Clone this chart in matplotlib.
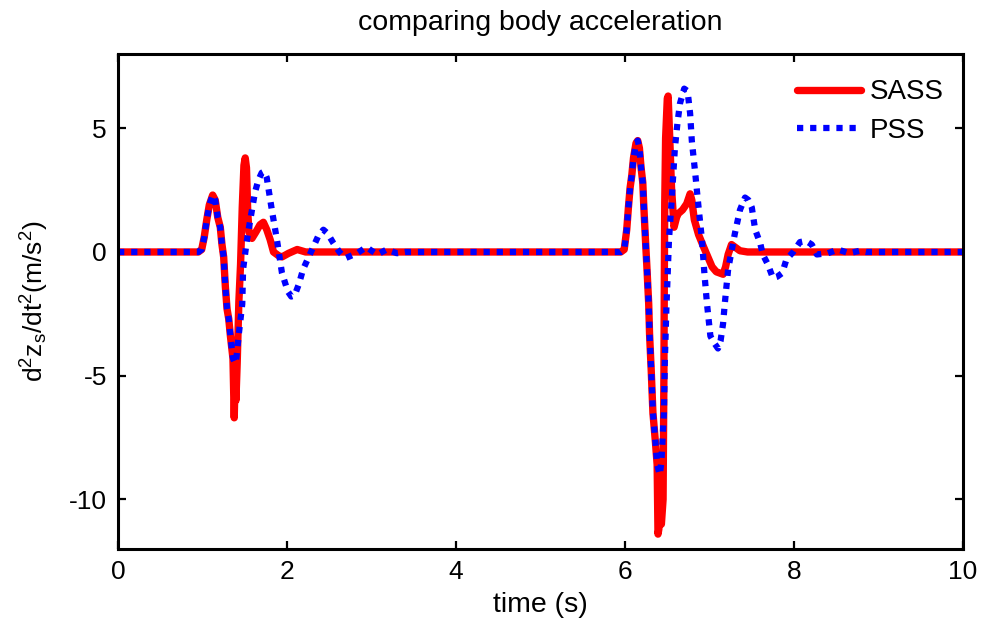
import numpy as np
import matplotlib
matplotlib.use("Agg")
import matplotlib.pyplot as plt

plt.rcParams['font.family'] = ['Liberation Sans', 'DejaVu Sans']
plt.rcParams['mathtext.default'] = 'regular'
plt.rcParams['axes.unicode_minus'] = False

# ---- data (time in s, accel in m/s^2) ----
# shared rise of the first bump (both controllers overlap here)
t_common1 = [0.0, 0.95, 0.99, 1.02, 1.05, 1.08, 1.12, 1.15, 1.18, 1.21, 1.23,
             1.25, 1.27, 1.29, 1.31, 1.33, 1.36]
a_common1 = [0.0, 0.0, 0.1, 0.6, 1.3, 1.9, 2.3, 2.1, 1.4, 1.0, 0.3,
             -0.2, -1.4, -2.3, -2.7, -3.4, -4.3]

# shared rise of the second bump
t_common2 = [5.95, 5.99, 6.02, 6.04, 6.06, 6.08, 6.10, 6.13, 6.15, 6.17, 6.19,
             6.21, 6.22, 6.24, 6.26, 6.28, 6.29, 6.31, 6.33, 6.36, 6.38]
a_common2 = [0.0, 0.1, 0.9, 1.8, 2.6, 3.1, 3.8, 4.4, 4.5, 4.2, 3.4,
             2.8, 2.0, 0.6, -0.7, -2.1, -3.3, -4.8, -6.5, -7.7, -8.6]

# SASS after the split
t_sass1 = [1.375, 1.385, 1.395, 1.41, 1.43, 1.45, 1.47, 1.49, 1.505, 1.52, 1.535,
           1.55, 1.585, 1.63, 1.68, 1.72, 1.76, 1.80, 1.84, 1.90, 1.94, 2.02,
           2.12, 2.22, 2.31, 5.95]
a_sass1 = [-6.7, -5.2, -6.0, -4.5, -2.0, -0.5, 1.8, 3.5, 3.8, 3.4, 1.6,
           0.8, 0.55, 0.8, 1.1, 1.2, 0.9, 0.5, 0.0, -0.15, -0.2, -0.05,
           0.1, 0.0, 0.0, 0.0]
t_sass2 = [6.39, 6.40, 6.41, 6.43, 6.45, 6.46, 6.465, 6.47, 6.48, 6.50, 6.51,
           6.53, 6.55, 6.58, 6.61, 6.63, 6.68, 6.73, 6.77, 6.79, 6.82, 6.87,
           6.93, 6.98, 7.03, 7.08, 7.16, 7.19, 7.22, 7.26, 7.30, 7.36, 7.45, 10.0]
a_sass2 = [-11.4, -11.2, -10.5, -11.0, -10.0, -5.0, -1.0, 2.0, 4.6, 6.2, 6.3,
           4.5, 2.6, 1.0, 1.4, 1.55, 1.7, 1.95, 2.35, 2.1, 1.3, 0.7,
           0.2, -0.2, -0.6, -0.8, -0.9, -0.6, -0.1, 0.3, 0.2, 0.05, 0.0, 0.0]

# PSS after the split
t_pss1 = [1.385, 1.40, 1.43, 1.47, 1.48, 1.52, 1.55, 1.58, 1.62, 1.66, 1.70,
          1.73, 1.76, 1.82, 1.88, 1.94, 2.01, 2.05, 2.09, 2.14, 2.19, 2.31,
          2.37, 2.43, 2.48, 2.55, 2.62, 2.69, 2.76, 2.83, 2.94, 3.00, 3.07,
          3.18, 3.30, 3.40, 5.95]
a_pss1 = [-4.5, -4.3, -3.3, -2.1, -0.7, 0.35, 1.0, 1.6, 2.4, 2.9, 3.2,
          3.25, 3.0, 1.7, 0.5, -0.85, -1.6, -1.8, -1.75, -1.3, -0.7, 0.2,
          0.65, 0.9, 0.75, 0.35, 0.0, -0.25, -0.15, -0.05, 0.2, 0.05, -0.1,
          0.1, -0.05, 0.0, 0.0]
t_pss2 = [6.41, 6.43, 6.46, 6.47, 6.49, 6.52, 6.55, 6.59, 6.62, 6.65, 6.70,
          6.74, 6.77, 6.79, 6.83, 6.85, 6.87, 6.91, 6.94, 6.97, 7.01, 7.06,
          7.10, 7.13, 7.16, 7.18, 7.22, 7.30, 7.36, 7.42, 7.46, 7.50, 7.54,
          7.60, 7.63, 7.69, 7.75, 7.80, 7.86, 7.91, 7.99, 8.07, 8.14, 8.21,
          8.27, 8.40, 8.52, 8.65, 8.78, 8.85, 10.0]
a_pss2 = [-9.0, -8.5, -6.5, -4.5, -2.2, 0.5, 2.0, 4.2, 5.2, 6.0, 6.6,
          6.5, 5.6, 4.5, 3.2, 2.5, 1.8, 0.5, -0.9, -2.1, -3.4, -3.7,
          -3.9, -3.6, -2.9, -2.1, -0.7, 0.75, 1.7, 2.2, 2.1, 1.8, 0.9,
          0.35, -0.1, -0.5, -1.05, -1.0, -0.85, -0.3, 0.0, 0.4, 0.45, 0.3,
          -0.1, -0.05, 0.1, -0.05, 0.05, 0.0, 0.0]

t_sass = np.array(t_common1 + t_sass1 + t_common2 + t_sass2)
a_sass = np.array(a_common1 + a_sass1 + a_common2 + a_sass2)
t_pss = np.array(t_common1 + t_pss1 + t_common2 + t_pss2)
a_pss = np.array(a_common1 + a_pss1 + a_common2 + a_pss2)

### ~~~~~~~~~~~~~~~~~~~~~~~~~~~~~~~~~~~~~~~ ###
fig = plt.figure(figsize=(9.82, 6.22), dpi=100)
ax = fig.add_axes([0.1202, 0.1174, 0.8605, 0.7958])

ax.plot(t_sass, a_sass, color='red', lw=5.3, solid_joinstyle='round',
        solid_capstyle='round', label='SASS')
ax.plot(t_pss, a_pss, color='blue', lw=4.5, linestyle=(0, (1.0, 1.1)),
        dash_capstyle='butt', label='PSS')

ax.set_xlim(0, 10)
ax.set_ylim(-12, 8)
ax.set_xticks([0, 2, 4, 6, 8, 10])
ax.set_yticks([-10, -5, 0, 5])

for s in ax.spines.values():
    s.set_linewidth(2.2)
ax.tick_params(direction='in', length=6, width=1.6, labelsize=19,
               top=True, right=True, pad=8)

ax.set_title('comparing body acceleration', fontsize=20.5, pad=17)
ax.set_xlabel('time (s)', fontsize=20.5, labelpad=6)
ax.set_ylabel(r'd$^2$z$_s$/dt$^2$(m/s$^2$)', fontsize=19, labelpad=13)

ax.legend(loc='upper right', frameon=False, fontsize=20, handlelength=2.3,
          handletextpad=0.3, labelspacing=0.45, borderaxespad=0.3,
          bbox_to_anchor=(1.0, 0.988))

plt.savefig('out.png', dpi=100)
